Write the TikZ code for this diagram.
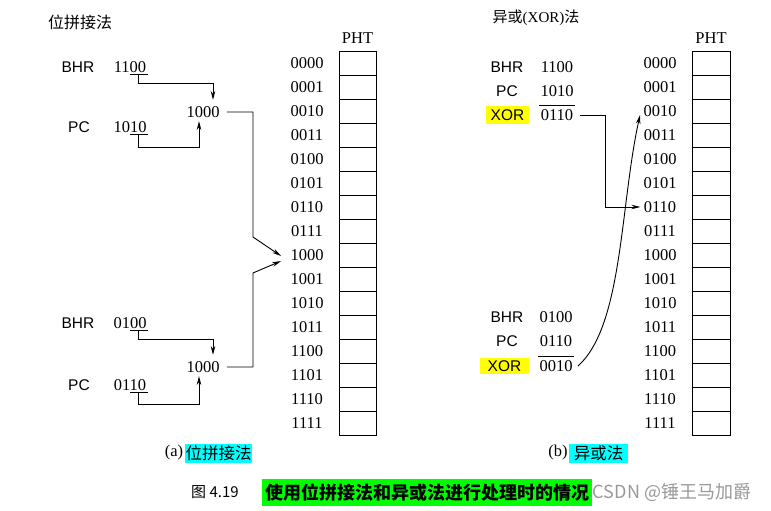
\documentclass[tikz,border=0pt]{standalone}
\usepackage{fontspec}
\setmainfont{Liberation Serif}
\newfontfamily\cjk{Noto Sans CJK SC}
\newfontfamily\hsans{Liberation Sans}
\usetikzlibrary{arrows.meta}
\definecolor{hlcyan}{RGB}{0,255,255}
\definecolor{hlyellow}{RGB}{255,255,0}
\definecolor{hlgreen}{RGB}{0,255,0}
\tikzset{
    txt/.style={inner sep=1pt, font=\fontsize{16.5}{18}\selectfont},
    reg/.style={inner sep=1pt, font=\hsans\fontsize{15.5}{18}\selectfont},
    cell/.style={draw, minimum width=37pt, minimum height=24pt, inner sep=0pt},
    arr/.style={-{Stealth[length=9pt,width=4.5pt]}},
    tag/.style={inner sep=0pt, font=\cjk\fontsize{16.5}{18}\selectfont}
}
\begin{document}
\begin{tikzpicture}[x=1pt, y=-1pt, line width=0.9pt]
    \useasboundingbox (0,0) rectangle (771,511);
    % 位拼接法
    \node[font=\cjk\fontsize{16}{18}\selectfont] (titleA) at (80,22) {位拼接法};
    \node[txt] (phtA) at (357.5,38) {PHT};
    \foreach \b [count=\i from 0] in {0000,0001,0010,0011,0100,0101,0110,0111,1000,1001,1010,1011,1100,1101,1110,1111} {
        \node[txt] (la\i) at (307,{63+24*\i}) {\b};
        \node[cell] (lc\i) at (357.5,{63+24*\i}) {};
    }
    % 上面一组
    \node[reg] (bhr1) at (78,67) {BHR};
    \node[txt] (bhr1v) at (130,67) {1100};
    \node[reg] (pc1) at (79,127) {PC};
    \node[txt] (pc1v) at (130,127) {1010};
    \node[txt] (cat1) at (203,112) {1000};
    \draw (bhr1v.south) -- (bhr1v.south east);
    \draw[arr] ([xshift=8pt]bhr1v.south) -- ++(0,9) -| ([xshift=10pt,yshift=5pt]cat1.north);
    \draw (pc1v.south) -- (pc1v.south east);
    \draw[arr] ([xshift=8pt]pc1v.south) -- ++(0,13) -| ([xshift=-4pt,yshift=-2pt]cat1.south);
    \draw[arr] ([xshift=6pt]cat1.east) -| ++(26,125) -- ([xshift=-8pt,yshift=-1pt]la8.west);
    % 下面一组
    \node[reg] (bhr2) at (78,323) {BHR};
    \node[txt] (bhr2v) at (130,323) {0100};
    \node[reg] (pc2) at (79,385) {PC};
    \node[txt] (pc2v) at (130,385) {0110};
    \node[txt] (cat2) at (203,367) {1000};
    \draw (bhr2v.south) -- (bhr2v.south east);
    \draw[arr] ([xshift=8pt]bhr2v.south) -- ++(0,9) -| ([xshift=10pt,yshift=5pt]cat2.north);
    \draw (pc2v.south) -- (pc2v.south east);
    \draw[arr] ([xshift=8pt]pc2v.south) -- ++(0,12) -| ([xshift=-4pt,yshift=-2pt]cat2.south);
    \draw[arr] ([xshift=6pt]cat2.east) -| ++(26,-94) -- ([xshift=-8pt,yshift=-6pt]la8.west);
    \node[txt] (capA) at (174,453) {(a)};
    \node[tag, fill=hlcyan, minimum width=67pt, minimum height=19pt] (capAt) at (218.5,453.5) {位拼接法};

    % 异或法
    \node[font=\fontsize{15}{17}\selectfont] (titleB) at (536,18) {{\cjk 异或}(XOR){\cjk 法}};
    \node[txt] (phtB) at (711,38) {PHT};
    \foreach \b [count=\i from 0] in {0000,0001,0010,0011,0100,0101,0110,0111,1000,1001,1010,1011,1100,1101,1110,1111} {
        \node[txt] (ra\i) at (660,{63+24*\i}) {\b};
        \node[cell, minimum width=38pt] (rc\i) at (711,{63+24*\i}) {};
    }
    % 上面一组
    \node[reg] (bhr3) at (507,67) {BHR};
    \node[txt] (bhr3v) at (557,67) {1100};
    \node[reg] (pc3) at (507,91) {PC};
    \node[txt] (pc3v) at (557,91) {1010};
    \node[reg, fill=hlyellow, minimum width=43pt, minimum height=18pt] (xor1) at (507.5,115) {XOR};
    \node[txt] (xor1v) at (557,115) {0110};
    \draw ([yshift=3pt]xor1v.north west) -- ([yshift=3pt]xor1v.north east);
    \draw[arr] ([xshift=5pt]xor1v.east) -| ++(26,92) -- ([xshift=-2pt]ra6.west);
    % 下面一组
    \node[reg] (bhr4) at (507,317) {BHR};
    \node[txt] (bhr4v) at (556,317) {0100};
    \node[reg] (pc4) at (507,341) {PC};
    \node[txt] (pc4v) at (556,341) {0110};
    \node[reg, fill=hlyellow, minimum width=49pt, minimum height=16pt] (xor2) at (504.5,366) {XOR};
    \node[txt] (xor2v) at (556,366) {0010};
    \draw ([yshift=3pt]xor2v.north west) -- ([yshift=3pt]xor2v.north east);
    \draw[arr] ([xshift=4pt]xor2v.east) .. controls +(45,-40) and +(-20,90) .. ([xshift=-2pt,yshift=-4pt]ra2.west);
    \node[txt] (capB) at (558,453) {(b)};
    \node[tag, fill=hlcyan, minimum width=59pt, minimum height=19pt] (capBt) at (598.5,453.5) {异或法};

    % 图题
    \node[font=\cjk\fontsize{15}{17}\selectfont] (figno) at (215,492) {图 4.19};
    \node[fill=hlgreen, minimum width=330pt, minimum height=27pt, inner sep=0pt, font=\cjk\bfseries\fontsize{18}{20}\selectfont] (figcap) at (427,492.5) {使用位拼接法和异或法进行处理时的情况};
    \node[font=\cjk\fontsize{18}{20}\selectfont, text=black!40] (wm) at (672,492) {CSDN @锤王马加爵};
\end{tikzpicture}
\end{document}
